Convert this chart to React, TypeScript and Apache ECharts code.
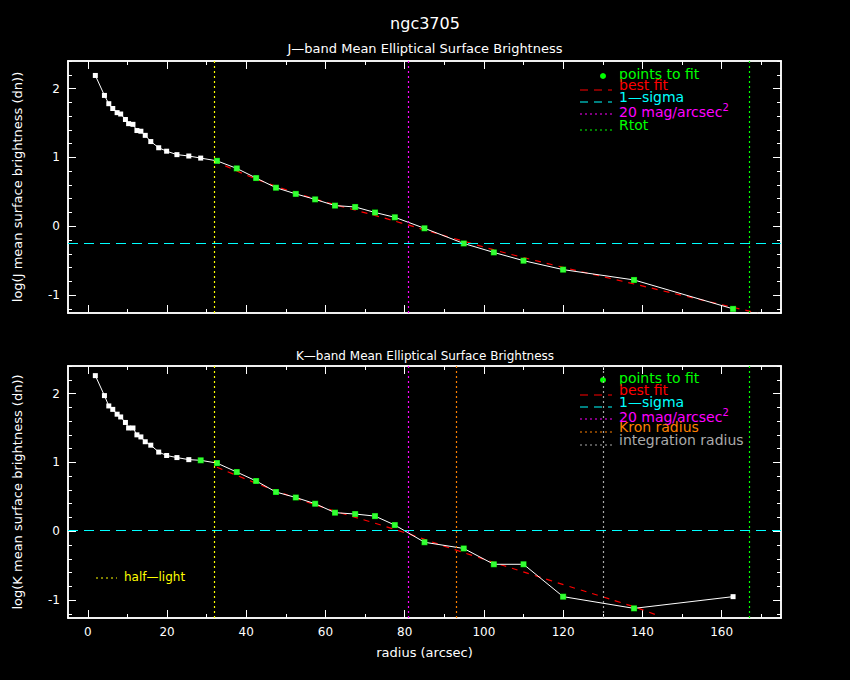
import React, { useEffect, useRef } from 'react';
import * as echarts from 'echarts';

const radius = [1.9, 4.2, 5.3, 6.3, 7.4, 8.3, 9.5, 10.3, 11.4, 12.4, 13.4, 14.5, 15.9, 17.9, 19.9, 22.5, 25.5, 28.5, 32.6, 37.6, 42.5, 47.5, 52.5, 57.4, 62.4, 67.5, 72.5, 77.5, 85, 94.9, 102.5, 110, 120, 137.9, 162.9];
const jFlux = [2.19, 1.9, 1.78, 1.71, 1.65, 1.63, 1.55, 1.49, 1.48, 1.39, 1.38, 1.32, 1.23, 1.14, 1.09, 1.04, 1.02, 0.99, 0.95, 0.84, 0.7, 0.56, 0.47, 0.39, 0.3, 0.28, 0.2, 0.13, -0.03, -0.25, -0.38, -0.5, -0.63, -0.78, -1.2];
const kFlux = [2.26, 1.97, 1.82, 1.77, 1.7, 1.66, 1.58, 1.5, 1.5, 1.4, 1.37, 1.3, 1.25, 1.15, 1.1, 1.07, 1.04, 1.03, 0.99, 0.86, 0.73, 0.57, 0.49, 0.4, 0.27, 0.25, 0.22, 0.09, -0.16, -0.25, -0.48, -0.48, -0.95, -1.12, -0.95];
const jFitRange = [18, 34];
const kFitRange = [17, 33];
const jBestFit = [[32, 0.95], [48.5, 0.56], [79, 0.05], [92, -0.17], [109, -0.44], [138, -0.84], [169, -1.26]];
const kBestFit = [[32.6, 0.93], [53.6, 0.46], [78.9, 0.0], [93.3, -0.28], [116.5, -0.71], [138, -1.1], [143.7, -1.22]];
const jSigma = -0.24;
const kSigma = 0.02;
const halfLight = 32;
const mag20 = 81;
const rtot = 167;
const kron = 93;
const integ = 130;
const xMajor = [0, 20, 40, 60, 80, 100, 120, 140, 160];
const xMinor = [10, 30, 50, 70, 90, 110, 130, 150, 170];
const yMajor = [-1, 0, 1, 2];
const yMinor = [-1.2, -0.8, -0.6, -0.4, -0.2, 0.2, 0.4, 0.6, 0.8, 1.2, 1.4, 1.6, 1.8, 2.2, 2.4];

const FONT = 'DejaVu Sans';
const WHITE = '#ffffff';

function xAxes(gi: number, withLabels: boolean) {
  const base = { type: 'value', gridIndex: gi, min: -5, max: 175, splitLine: { show: false }, axisLine: { onZero: false, lineStyle: { color: WHITE, width: 1.5 } } };
  const mk = (pos: string, vals: number[], len: number, lab: boolean, extra: any = {}) => ({
    ...base, position: pos, offset: 0,
    axisTick: { show: true, inside: true, length: len, customValues: vals, lineStyle: { color: WHITE } },
    axisLabel: lab ? { show: true, customValues: xMajor, color: WHITE, fontFamily: FONT, fontSize: 12, margin: 8 } : { show: false },
    ...extra,
  });
  return [
    mk('bottom', xMajor, 8, withLabels, withLabels ? { name: 'radius (arcsec)', nameLocation: 'middle', nameGap: 28, nameTextStyle: { color: WHITE, fontFamily: FONT, fontSize: 13 } } : {}),
    mk('bottom', xMinor, 4, false),
    mk('top', xMajor, 8, false),
    mk('top', xMinor, 4, false),
  ];
}

function yAxes(gi: number, name: string) {
  const base = { type: 'value', gridIndex: gi, min: -1.26, max: 2.4, splitLine: { show: false }, axisLine: { onZero: false, lineStyle: { color: WHITE, width: 1.5 } } };
  const mk = (pos: string, vals: number[], len: number, lab: boolean, extra: any = {}) => ({
    ...base, position: pos, offset: 0,
    axisTick: { show: true, inside: true, length: len, customValues: vals, lineStyle: { color: WHITE } },
    axisLabel: lab ? { show: true, customValues: yMajor, color: WHITE, fontFamily: FONT, fontSize: 12, margin: 8 } : { show: false },
    ...extra,
  });
  return [
    mk('left', yMajor, 8, true, { name, nameLocation: 'middle', nameGap: 44, nameTextStyle: { color: WHITE, fontFamily: FONT, fontSize: 13 } }),
    mk('left', yMinor, 4, false),
    mk('right', yMajor, 8, false),
    mk('right', yMinor, 4, false),
  ];
}

function vline(x: number, color: string) {
  return { xAxis: x, lineStyle: { color, type: [2, 3], width: 1.2 } };
}

function panelSeries(gi: number, flux: number[], fit: number[], best: number[][], sigma: number, vlines: any[]) {
  const xi = gi * 4;
  const yi = gi * 4;
  const pts = radius.map((r, i) => [r, flux[i]]);
  const fitPts = pts.slice(fit[0], fit[1] + 1);
  return [
    {
      type: 'line', xAxisIndex: xi, yAxisIndex: yi, data: best, symbol: 'none', smooth: true,
      lineStyle: { color: '#ff0000', type: [6, 6], width: 1.2 }, z: 2,
    },
    {
      type: 'line', xAxisIndex: xi, yAxisIndex: yi, data: pts, symbol: 'rect', symbolSize: 5,
      itemStyle: { color: WHITE }, lineStyle: { color: WHITE, width: 1 }, z: 3,
      markLine: {
        silent: true, symbol: 'none', label: { show: false },
        data: [
          ...vlines,
          { yAxis: sigma, lineStyle: { color: '#00ffff', type: [10, 6], width: 1.2 } },
        ],
      },
    },
    {
      type: 'scatter', xAxisIndex: xi, yAxisIndex: yi, data: fitPts, symbol: 'rect', symbolSize: 6,
      itemStyle: { color: '#00ff00' }, z: 4,
    },
  ];
}

function legend(x: number, y0: number, rows: { text: string; color: string; kind: string; sup?: boolean }[], gaps: number[]) {
  const els: any[] = [];
  rows.forEach((r, i) => {
    const y = y0 + gaps[i];
    if (r.kind === 'dot') {
      els.push({ type: 'circle', shape: { cx: x + 23, cy: y + 4, r: 3 }, style: { fill: r.color } });
    } else {
      const dash = r.kind === 'dash' ? [8, 6] : [2, 3];
      els.push({ type: 'line', shape: { x1: x, y1: y + 7, x2: x + 32, y2: y + 7 }, style: { stroke: r.color, lineDash: dash, lineWidth: 1.2 } });
    }
    els.push({
      type: 'text', x: x + 39, y: y - 5,
      style: {
        text: r.sup ? '{a|' + r.text + '}{s|2}' : r.text,
        fill: r.color, font: `14px "${FONT}"`,
        rich: { a: { fill: r.color, fontSize: 14, fontFamily: FONT }, s: { fill: r.color, fontSize: 10, fontFamily: FONT, verticalAlign: 'top', padding: [0, 0, 10, 0] } },
      },
    });
  });
  return els;
}

const App: React.FC = () => {
  const ref = useRef<HTMLDivElement>(null);
  useEffect(() => {
    if (!ref.current) return;
    const chart = echarts.init(ref.current, null, { renderer: 'svg' });
    const titleStyle = { color: WHITE, fontFamily: FONT, fontWeight: 'normal' };
    chart.setOption({
      animation: false,
      backgroundColor: '#000000',
      title: [
        { text: 'ngc3705', left: 'center', top: 10, textStyle: { ...titleStyle, fontSize: 16 } },
        { text: 'J\u2014band Mean Elliptical Surface Brightness', left: 'center', top: 37, textStyle: { ...titleStyle, fontSize: 13 } },
        { text: 'K\u2014band Mean Elliptical Surface Brightness', left: 'center', top: 345, textStyle: { ...titleStyle, fontSize: 12 } },
      ],
      grid: [
        { left: 68, right: 69, top: 61, height: 252 },
        { left: 68, right: 69, top: 366, height: 252 },
      ],
      xAxis: [...xAxes(0, false), ...xAxes(1, true)],
      yAxis: [...yAxes(0, 'log(J mean surface brightness (dn))'), ...yAxes(1, 'log(K mean surface brightness (dn))')],
      series: [
        ...panelSeries(0, jFlux, jFitRange, jBestFit, jSigma, [vline(halfLight, '#ffff00'), vline(mag20, '#ff00ff'), vline(rtot, '#00ff00')]),
        ...panelSeries(1, kFlux, kFitRange, kBestFit, kSigma, [vline(halfLight, '#ffff00'), vline(mag20, '#ff00ff'), vline(kron, '#ff8000'), vline(integ, '#aaaaaa'), vline(rtot, '#00ff00')]),
      ],
      graphic: [
        ...legend(580, 66, [
          { text: 'points to fit', color: '#00ff00', kind: 'dot' },
          { text: 'best fit', color: '#ff0000', kind: 'dash' },
          { text: '1\u2014sigma', color: '#00ffff', kind: 'dash' },
          { text: '20 mag/arcsec', color: '#ff00ff', kind: 'dot2', sup: true },
          { text: 'Rtot', color: '#00ff00', kind: 'dot2' },
        ], [6, 17, 29, 41, 57]),
        ...legend(580, 366, [
          { text: 'points to fit', color: '#00ff00', kind: 'dot' },
          { text: 'best fit', color: '#ff0000', kind: 'dash' },
          { text: '1\u2014sigma', color: '#00ffff', kind: 'dash' },
          { text: '20 mag/arcsec', color: '#ff00ff', kind: 'dot2', sup: true },
          { text: 'Kron radius', color: '#ff8000', kind: 'dot2' },
          { text: 'integration radius', color: '#aaaaaa', kind: 'dot2' },
        ], [10, 22, 34, 46, 59, 72]),
        { type: 'line', shape: { x1: 96, y1: 578, x2: 117, y2: 578 }, style: { stroke: '#ffff00', lineDash: [2, 3], lineWidth: 1.2 } },
        { type: 'text', x: 124, y: 571, style: { text: 'half\u2014light', fill: '#ffff00', font: `12px "${FONT}"` } },
      ],
    });
    return () => chart.dispose();
  }, []);
  return <div ref={ref} style={{ position: 'fixed', left: 0, top: 0, width: 850, height: 680, background: '#000' }} />;
};

export default App;
